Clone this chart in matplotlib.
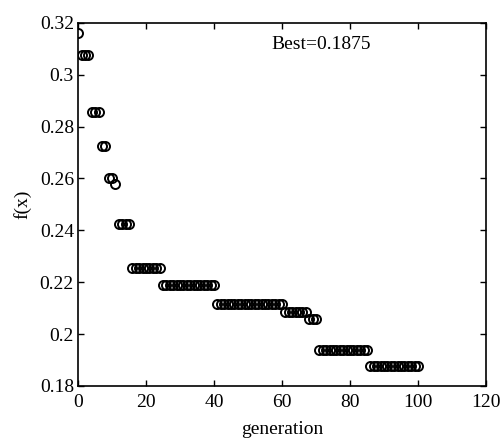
import numpy as np
import matplotlib
matplotlib.use("Agg")
import matplotlib.pyplot as plt

plt.rcParams["font.family"] = ["Liberation Serif", "DejaVu Serif"]

# best f(x) per generation as (first gen, last gen, value)
step_start = [0, 1, 4, 7, 9, 11, 12, 16, 25, 41, 61, 68, 71, 86]
step_end = [0, 3, 6, 8, 10, 11, 15, 24, 40, 60, 67, 70, 85, 100]
step_value = [0.316, 0.3075, 0.2857, 0.2727, 0.2600, 0.2580, 0.2425,
              0.2255, 0.2190, 0.2117, 0.2085, 0.2057, 0.1940, 0.1875]

generation = []
fx = []
for a, b, v in zip(step_start, step_end, step_value):
    for g in range(a, b + 1):
        generation.append(g)
        fx.append(v)

x_ticks = [0, 20, 40, 60, 80, 100, 120]
y_ticks = [0.18, 0.2, 0.22, 0.24, 0.26, 0.28, 0.3, 0.32]
y_tick_labels = ["0.18", "0.2", "0.22", "0.24", "0.26", "0.28", "0.3", "0.32"]
best_text = "Best=0.1875"

fig = plt.figure(figsize=(5.04, 4.41), dpi=100)
ax = fig.add_axes([0.155, 0.125, 0.809, 0.823])

ax.plot(generation, fx, linestyle="none", marker="o", markersize=6.5,
        markerfacecolor="none", markeredgecolor="black", markeredgewidth=1.4)

ax.set_xlim(0, 120)
ax.set_ylim(0.18, 0.32)
ax.set_xticks(x_ticks)
ax.set_yticks(y_ticks)
ax.set_yticklabels(y_tick_labels)
ax.tick_params(direction="in", length=4, width=1.0, top=True, right=True,
               labelsize=14, colors="black", pad=3)
ax.tick_params(axis="x", pad=6)
for s in ax.spines.values():
    s.set_linewidth(1.2)
    s.set_color("black")

ax.set_xlabel("generation", fontsize=14, labelpad=7)
ax.set_ylabel("f(x)", fontsize=14, labelpad=6)
ax.text(57, 0.3115, best_text, fontsize=14, va="center", ha="left")

fig.savefig("out.png", dpi=100)
